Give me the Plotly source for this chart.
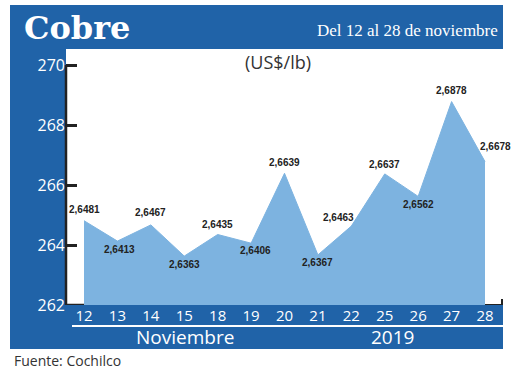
import plotly.graph_objects as go

# ---- data ----
days = ["12", "13", "14", "15", "18", "19", "20", "21", "22", "25", "26", "27", "28"]
price_cents = [264.81, 264.13, 264.67, 263.63, 264.35, 264.06, 266.39, 263.67, 264.63,
               266.37, 265.62, 268.78, 266.78]
price_labels = ["2,6481", "2,6413", "2,6467", "2,6363", "2,6435", "2,6406", "2,6639",
                "2,6367", "2,6463", "2,6637", "2,6562", "2,6878", "2,6678"]
y_ticks = [262, 264, 266, 268, 270]

# label offsets (pixels) relative to each point
label_dx = [0, 2, 0, 0, 0, 4, 0, 0, -13, 0, 0, 0, 10]
label_dy = [11, -8, 12, -8, 10, -7, 11, -8, 9, 9, -8, 11, 15]

W, H = 520, 372
L, R, T, B = 66, 503, 49, 305  # plot area in pixels

BLUE = "#2063a8"
LIGHT = "#7db3e0"
DARK = "#222222"

x_idx = list(range(len(days)))
px_per_cat = (485 - 84) / 12.0
x0_range = -(84 - L) / px_per_cat
x1_range = 12 + (R - 485) / px_per_cat
px_per_unit = (B - 65) / 8.0
y_top = 270 + (65 - T) / px_per_unit


def px(xp):
    return (xp - L) / (R - L)


def py(yp):
    return (B - yp) / (B - T)


fig = go.Figure()
fig.add_trace(go.Scatter(
    x=x_idx, y=price_cents, mode="lines", fill="tozeroy",
    line=dict(color=LIGHT, width=1), fillcolor=LIGHT, hoverinfo="skip",
))

annotations = []
for i, (v, lab) in enumerate(zip(price_cents, price_labels)):
    annotations.append(dict(
        x=i, y=v, xref="x", yref="y", text="<b>" + lab + "</b>", showarrow=False,
        xshift=label_dx[i], yshift=label_dy[i],
        font=dict(family="Liberation Sans", size=10, color=DARK),
    ))

annotations += [
    dict(x=px(22), y=py(28), xref="paper", yref="paper", text="<b>Cobre</b>",
         showarrow=False, xanchor="left", yanchor="middle",
         font=dict(family="DejaVu Serif", size=32, color="white")),
    dict(x=px(500), y=py(30), xref="paper", yref="paper", text="Del 12 al 28 de noviembre",
         showarrow=False, xanchor="right", yanchor="middle",
         font=dict(family="Liberation Serif", size=17, color="white")),
    dict(x=px(278), y=py(62), xref="paper", yref="paper", text="(US$/lb)",
         showarrow=False, xanchor="center", yanchor="middle",
         font=dict(family="Open Sans", size=18, color="#333333")),
    dict(x=px(185), y=py(337), xref="paper", yref="paper", text="Noviembre",
         showarrow=False, xanchor="center", yanchor="middle",
         font=dict(family="Open Sans", size=19, color="white")),
    dict(x=px(392), y=py(337), xref="paper", yref="paper", text="2019",
         showarrow=False, xanchor="center", yanchor="middle",
         font=dict(family="Open Sans", size=19, color="white")),
    dict(x=px(12), y=py(360), xref="paper", yref="paper", text="Fuente: Cochilco",
         showarrow=False, xanchor="left", yanchor="middle",
         font=dict(family="Open Sans", size=14, color="#333333")),
]

shapes = [
    # blue frame
    dict(type="rect", xref="paper", yref="paper", x0=px(10), x1=px(503), y0=py(349), y1=py(5),
         fillcolor=BLUE, line=dict(width=0), layer="below"),
    # white plot area
    dict(type="rect", xref="paper", yref="paper", x0=0, x1=1, y0=0, y1=1,
         fillcolor="white", line=dict(width=0), layer="below"),
    # white separator line
    dict(type="line", xref="paper", yref="paper", x0=px(72), x1=px(503), y0=py(326), y1=py(326),
         line=dict(color="white", width=2)),
    # y axis line
    dict(type="line", xref="paper", yref="y", x0=0, x1=0, y0=262, y1=270,
         line=dict(color=DARK, width=2.5)),
    # bottom axis fragments
    dict(type="line", xref="x", yref="y", x0=x0_range, x1=0, y0=262, y1=262,
         line=dict(color=DARK, width=2.5)),
    dict(type="line", xref="x", yref="y", x0=12, x1=x1_range - 0.03, y0=262, y1=262,
         line=dict(color=DARK, width=2)),
    dict(type="line", xref="x", yref="y", x0=x1_range - 0.03, x1=x1_range - 0.03, y0=262, y1=262.2,
         line=dict(color=DARK, width=2)),
]

fig.update_layout(
    width=W, height=H,
    margin=dict(l=L, r=W - R, t=T, b=H - B, pad=0),
    paper_bgcolor="white", plot_bgcolor="white",
    showlegend=False,
    shapes=shapes, annotations=annotations,
    xaxis=dict(range=[x0_range, x1_range], tickmode="array", tickvals=x_idx, ticktext=days,
               showgrid=False, zeroline=False, showline=False, ticks="",
               tickfont=dict(family="Open Sans", size=15, color="white"), fixedrange=True),
    yaxis=dict(range=[262, y_top], tickmode="array", tickvals=y_ticks,
               ticktext=[str(t) for t in y_ticks],
               showgrid=False, zeroline=False, showline=False,
               ticks="inside", ticklen=11, tickwidth=2.5, tickcolor=DARK,
               tickfont=dict(family="Open Sans", size=16, color="white"), fixedrange=True),
)

fig.write_html("out.html", config={"displayModeBar": False},
               post_script="document.body.style.margin='0';document.body.style.padding='0';")
